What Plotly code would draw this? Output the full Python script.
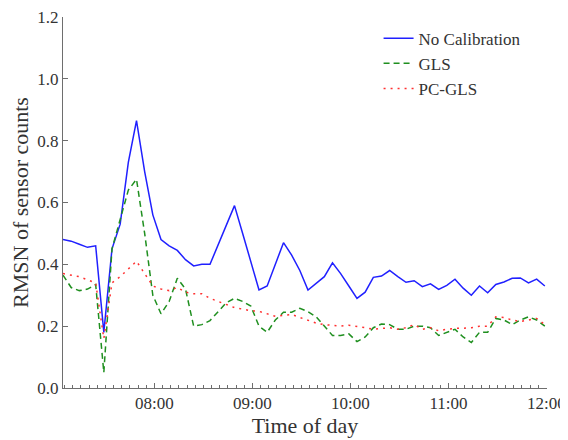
import pandas as pd
import plotly.graph_objects as go

start_time = "2024-01-01 07:04"
step_minutes = 5

no_calibration = [0.48, 0.475, 0.465, 0.455, 0.46, 0.18, 0.45, 0.53, 0.73, 0.865, 0.70, 0.56,
                  0.48, 0.46, 0.445, 0.415, 0.395, 0.40, 0.40, 0.465, 0.53, 0.59, 0.50, 0.41,
                  0.317, 0.33, 0.40, 0.47, 0.43, 0.38, 0.317, 0.337, 0.36, 0.405, 0.37, 0.33,
                  0.29, 0.31, 0.358, 0.362, 0.38, 0.36, 0.342, 0.347, 0.328, 0.337, 0.319, 0.332,
                  0.352, 0.323, 0.30, 0.33, 0.308, 0.335, 0.343, 0.355, 0.356, 0.34, 0.352, 0.33]
gls = [0.365, 0.325, 0.315, 0.32, 0.335, 0.05, 0.45, 0.545, 0.64, 0.675, 0.50, 0.30,
       0.24, 0.28, 0.355, 0.32, 0.20, 0.205, 0.218, 0.247, 0.276, 0.29, 0.28, 0.265,
       0.20, 0.18, 0.22, 0.245, 0.245, 0.258, 0.247, 0.23, 0.20, 0.17, 0.17, 0.175,
       0.15, 0.165, 0.195, 0.207, 0.205, 0.19, 0.19, 0.20, 0.20, 0.195, 0.17, 0.18,
       0.19, 0.165, 0.147, 0.18, 0.18, 0.225, 0.22, 0.205, 0.22, 0.23, 0.22, 0.20]
pc_gls = [0.37, 0.365, 0.36, 0.35, 0.34, 0.16, 0.34, 0.36, 0.385, 0.41, 0.37, 0.33,
          0.32, 0.315, 0.325, 0.31, 0.305, 0.305, 0.29, 0.28, 0.27, 0.26, 0.255, 0.25,
          0.248, 0.24, 0.232, 0.235, 0.238, 0.228, 0.22, 0.21, 0.205, 0.203, 0.20, 0.203,
          0.20, 0.195, 0.19, 0.193, 0.195, 0.19, 0.195, 0.205, 0.19, 0.195, 0.185, 0.19,
          0.193, 0.193, 0.195, 0.20, 0.20, 0.23, 0.228, 0.22, 0.215, 0.22, 0.225, 0.205]

series_names = ["No Calibration", "GLS", "PC-GLS"]
times = pd.date_range(start=start_time, periods=len(no_calibration), freq=f"{step_minutes}min")

FONT = "Liberation Serif, Times New Roman, serif"
AXIS_COLOR = "#6e6e6e"

fig = go.Figure()
fig.add_trace(go.Scatter(x=times, y=no_calibration, mode="lines", name=series_names[0],
                         line=dict(color="#2020ff", width=1.5)))
fig.add_trace(go.Scatter(x=times, y=gls, mode="lines", name=series_names[1],
                         line=dict(color="#1f8f1f", width=1.5, dash="6px,4px")))
fig.add_trace(go.Scatter(x=times, y=pc_gls, mode="lines", name=series_names[2],
                         line=dict(color="#ff3030", width=1.5, dash="2px,5px")))

fig.update_layout(
    width=560, height=432,
    margin=dict(l=55, r=21, t=9, b=52),
    paper_bgcolor="white", plot_bgcolor="white",
    font=dict(family=FONT, size=16, color="#333333"),
    showlegend=True,
    legend=dict(x=0.652, y=0.99, xanchor="left", yanchor="top",
                bgcolor="rgba(0,0,0,0)", font=dict(size=17, family=FONT, color="#333333"),
                tracegroupgap=0),
    xaxis=dict(
        range=["2024-01-01 07:04", "2024-01-01 12:00:20"],
        tickformat="%H:%M", dtick=3600000, tick0="2024-01-01 08:00",
        ticks="inside", ticklen=5, tickcolor=AXIS_COLOR,
        minor=dict(dtick=300000, tick0="2024-01-01 08:00", ticks="inside", ticklen=3, tickcolor=AXIS_COLOR),
        showline=True, linecolor=AXIS_COLOR, linewidth=1, mirror=False,
        showgrid=False, zeroline=False, automargin=False, ticklabeloverflow="allow",
        title=dict(text="Time of day", font=dict(size=22, family=FONT), standoff=2),
        tickfont=dict(size=17, family=FONT, color="#333333"),
    ),
    yaxis=dict(
        range=[0, 1.2], dtick=0.2, tickformat=".1f",
        ticks="inside", ticklen=5, tickcolor=AXIS_COLOR,
        showline=True, linecolor=AXIS_COLOR, linewidth=1, mirror=False,
        showgrid=False, zeroline=False, automargin=False, ticklabeloverflow="allow",
        title=dict(text="RMSN of sensor counts", font=dict(size=22, family=FONT), standoff=6),
        tickfont=dict(size=17, family=FONT, color="#333333"),
    ),
)

fig.write_html("out.html")
